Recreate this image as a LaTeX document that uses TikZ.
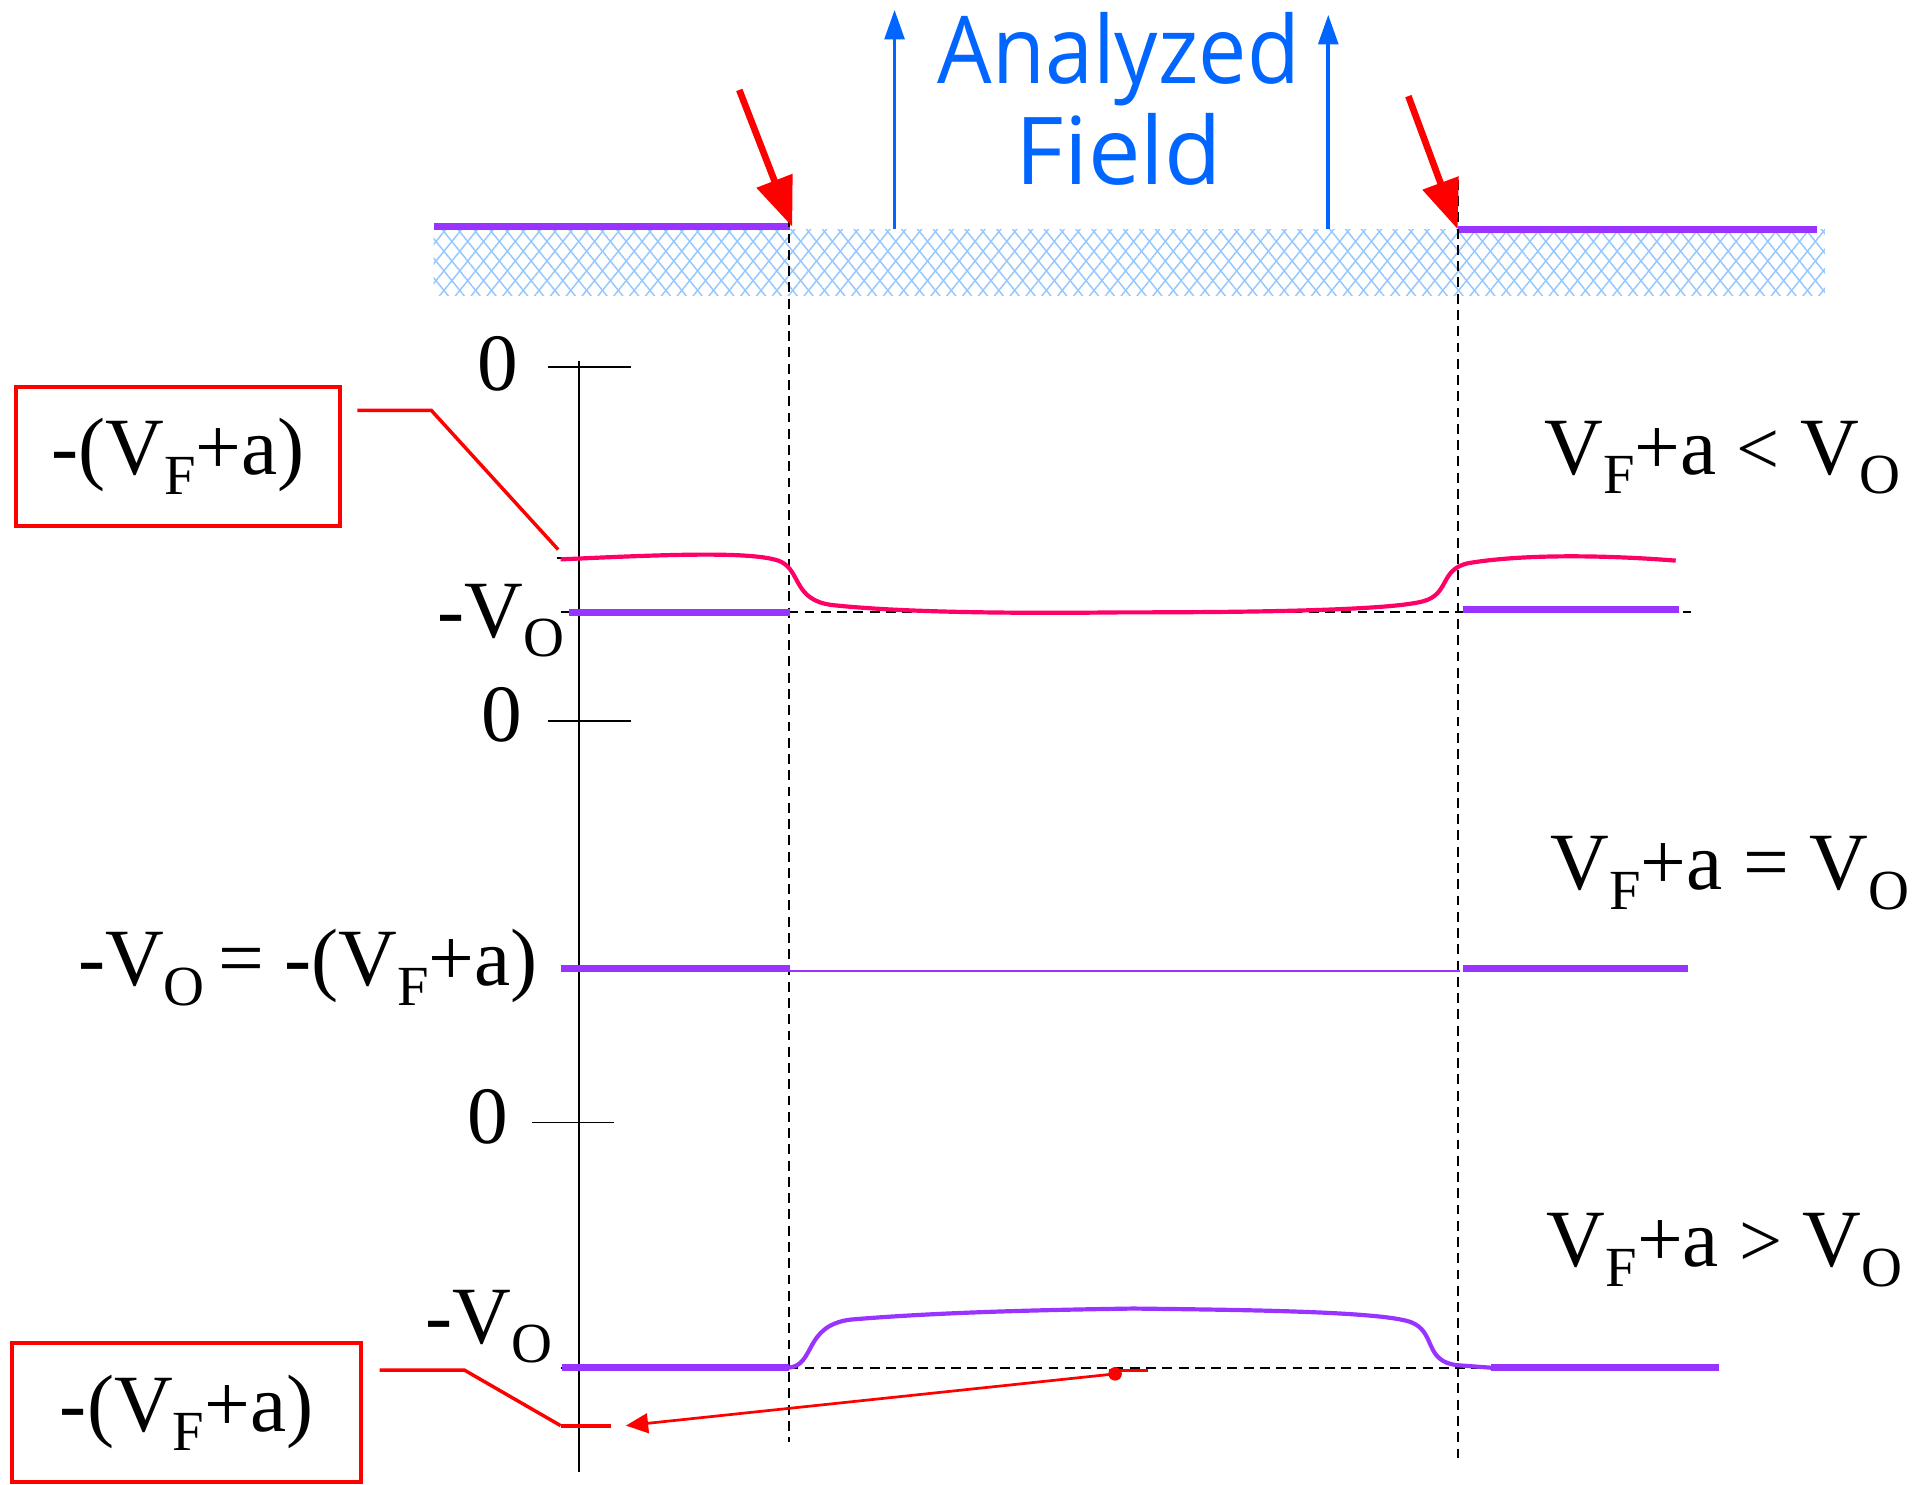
\documentclass[tikz,border=0pt]{standalone}
\usepackage{fontspec}
\setmainfont{Liberation Serif}
\newfontfamily\comicf{Open Sans}
\usetikzlibrary{patterns.meta,arrows.meta}
\definecolor{purp}{RGB}{153,51,255}
\definecolor{pinkc}{RGB}{255,0,102}
\definecolor{bluef}{RGB}{0,102,255}
\definecolor{hatchb}{RGB}{150,200,255}
\newcommand{\sbs}[1]{\raisebox{-0.24em}{\fontsize{23}{23}\selectfont #1}}
\begin{document}
\begin{tikzpicture}[x=0.5pt,y=-0.5pt,
  lbl/.style={font=\fontsize{33}{33}\selectfont, inner sep=0pt},
  fieldtxt/.style={font=\comicf\fontsize{38}{38}\selectfont, text=bluef, inner sep=0pt},
  redbox/.style={draw=red, line width=1.6pt, inner sep=0pt, font=\fontsize{33}{33}\selectfont},
  redcon/.style={draw=red, line width=1.4pt},
  bigred/.style={draw=red, line width=2.7pt, -{Triangle[length=20pt,width=15pt]}, red},
  bluearr/.style={draw=bluef, line width=1.5pt, -{Triangle[length=12pt,width=8pt]}, bluef},
  vdash/.style={draw=black, line width=0.75pt, dash pattern=on 4pt off 2.6pt},
  axisl/.style={draw=black, line width=0.8pt},
  thickp/.style={draw=purp, line width=2.8pt},
  thinp/.style={draw=purp, line width=1.7pt},
  pinkl/.style={draw=pinkc, line width=1.7pt},
]
\useasboundingbox (0,0) rectangle (1568,1205);

% hatched band
\fill[pattern={Lines[angle=51,distance=5pt,line width=0.6pt]}, pattern color=hatchb] (352,186) rectangle (1481,240);
\fill[pattern={Lines[angle=-51,distance=5pt,line width=0.6pt]}, pattern color=hatchb] (352,186) rectangle (1481,240);

% top purple lines
\coordinate (tl1) at (352,184);
\coordinate (tl2) at (641,184);
\coordinate (tr1) at (1183,186);
\coordinate (tr2) at (1475,186);
\draw[thickp] (tl1) -- (tl2);
\draw[thickp] (tr1) -- (tr2);

% vertical dashed lines
\coordinate (dl1) at (640,150);
\coordinate (dl2) at (640,1170);
\coordinate (dr1) at (1183,146);
\coordinate (dr2) at (1183,1183);
\draw[vdash] (dl1) -- (dl2);
\draw[vdash] (dr1) -- (dr2);

% red arrows
\coordinate (ra1s) at (600,73);
\coordinate (ra1e) at (643,184);
\coordinate (ra2s) at (1143,78);
\coordinate (ra2e) at (1183,186);
\draw[bigred] (ra1s) -- (ra1e);
\draw[bigred] (ra2s) -- (ra2e);

% blue arrows
\coordinate (ba1s) at (726,186);
\coordinate (ba1e) at (726,8);
\coordinate (ba2s) at (1078,186);
\coordinate (ba2e) at (1078,12);
\draw[bluearr] (ba1s) -- (ba1e);
\draw[bluearr] (ba2s) -- (ba2e);

\node[fieldtxt, anchor=base, xscale=0.92] (an) at (908,68) {Analyzed};
\node[fieldtxt, anchor=base] (fi) at (908,150) {Field};

% axis
\coordinate (ax1) at (470,293);
\coordinate (ax2) at (470,1195);
\draw[axisl] (ax1) -- (ax2);

% ticks
\coordinate (t1a) at (445,298); \coordinate (t1b) at (512,298);
\coordinate (t2a) at (445,585); \coordinate (t2b) at (512,585);
\coordinate (t3a) at (432,911); \coordinate (t3b) at (498,911);
\coordinate (t4a) at (452,453); \coordinate (t4b) at (470,453);
\coordinate (t5a) at (455,497); \coordinate (t5b) at (470,497);
\draw[axisl] (t1a) -- (t1b);
\draw[axisl] (t2a) -- (t2b);
\draw[axisl] (t3a) -- (t3b);
\draw[axisl] (t4a) -- (t4b);
\draw[axisl] (t5a) -- (t5b);

\node[lbl, anchor=base] (z1) at (404,317) {0};
\node[lbl, anchor=base] (z2) at (407,602) {0};
\node[lbl, anchor=base] (z3) at (396,928) {0};

% ---- top panel
\coordinate (h1a) at (455,497); \coordinate (h1b) at (1372,497);
\draw[vdash] (h1a) -- (h1b);
\coordinate (p1a) at (462,497); \coordinate (p1b) at (641,497);
\coordinate (p2a) at (1187,495); \coordinate (p2b) at (1363,495);
\draw[thickp] (p1a) -- (p1b);
\draw[thickp] (p2a) -- (p2b);
\draw[pinkl] (455,454) .. controls (540,450) and (615,447) .. (634,456)
  .. controls (650,464) and (644,487) .. (675,491)
  .. controls (730,497) and (820,498) .. (908,497)
  .. controls (1000,497) and (1125,496) .. (1155,488)
  .. controls (1177,482) and (1168,462) .. (1192,457)
  .. controls (1240,449) and (1310,451) .. (1360,455);

\node[lbl, anchor=base west] (vo1) at (355,517) {-V\sbs{O}};
\node[lbl, anchor=base west] (c1) at (1253,385) {V\sbs{F}+a {\fontsize{31}{31}\selectfont<} V\sbs{O}};

\node[redbox, minimum width=131.5pt, minimum height=56.5pt] (box1) at (144.5,370.5) {-(V\sbs{F}+a)};
\coordinate (k1a) at (290,333);
\coordinate (k1b) at (350,333);
\coordinate (k1c) at (453,446);
\draw[redcon] (k1a) -- (k1b) -- (k1c);

% ---- middle panel
\coordinate (m1a) at (455,786); \coordinate (m1b) at (641,786);
\coordinate (m2a) at (641,788); \coordinate (m2b) at (1185,788);
\coordinate (m3a) at (1187,786); \coordinate (m3b) at (1370,786);
\draw[thickp] (m1a) -- (m1b);
\draw[draw=purp, line width=1pt] (m2a) -- (m2b);
\draw[thickp] (m3a) -- (m3b);
\node[lbl, anchor=base east] (vo2) at (437,800) {-V\sbs{O}\,= -(V\sbs{F}+a)};
\node[lbl, anchor=base west] (c2) at (1258,722) {V\sbs{F}+a = V\sbs{O}};

% ---- bottom panel
\coordinate (h2a) at (455,1110); \coordinate (h2b) at (1210,1110);
\draw[vdash] (h2a) -- (h2b);
\coordinate (q1a) at (456,1110); \coordinate (q1b) at (640,1110);
\coordinate (q2a) at (1210,1110); \coordinate (q2b) at (1395,1110);
\draw[thickp] (q1a) -- (q1b);
\draw[thickp] (q2a) -- (q2b);
\draw[thinp] (q1b) .. controls (662,1108) and (652,1076) .. (690,1071)
  .. controls (760,1065) and (850,1063) .. (920,1062)
  .. controls (1000,1063) and (1120,1064) .. (1145,1073)
  .. controls (1166,1081) and (1155,1105) .. (1183,1108) -- (q2a);

\node[lbl, anchor=base west] (vo3) at (345,1090) {-V\sbs{O}};
\node[lbl, anchor=base west] (c3) at (1255,1028) {V\sbs{F}+a {\fontsize{31}{31}\selectfont>} V\sbs{O}};

\coordinate (s1a) at (900,1112); \coordinate (s1b) at (932,1112);
\draw[draw=red, line width=1.3pt] (s1a) -- (s1b);
\node[circle, fill=red, inner sep=0pt, minimum size=5.5pt] (dot) at (905,1115) {};
\coordinate (s2a) at (455,1157); \coordinate (s2b) at (496,1157);
\draw[draw=red, line width=1.7pt] (s2a) -- (s2b);
\coordinate (arE) at (508,1157);
\draw[draw=red, line width=1.1pt, -{Triangle[length=9pt,width=8pt]}] (dot.center) -- (arE);

\node[redbox, minimum width=141.5pt, minimum height=56.5pt] (box2) at (151.5,1146.5) {-(V\sbs{F}+a)};
\coordinate (k2a) at (308,1112);
\coordinate (k2b) at (377,1112);
\coordinate (k2c) at (455,1157);
\draw[redcon] (k2a) -- (k2b) -- (k2c);
\end{tikzpicture}
\end{document}
